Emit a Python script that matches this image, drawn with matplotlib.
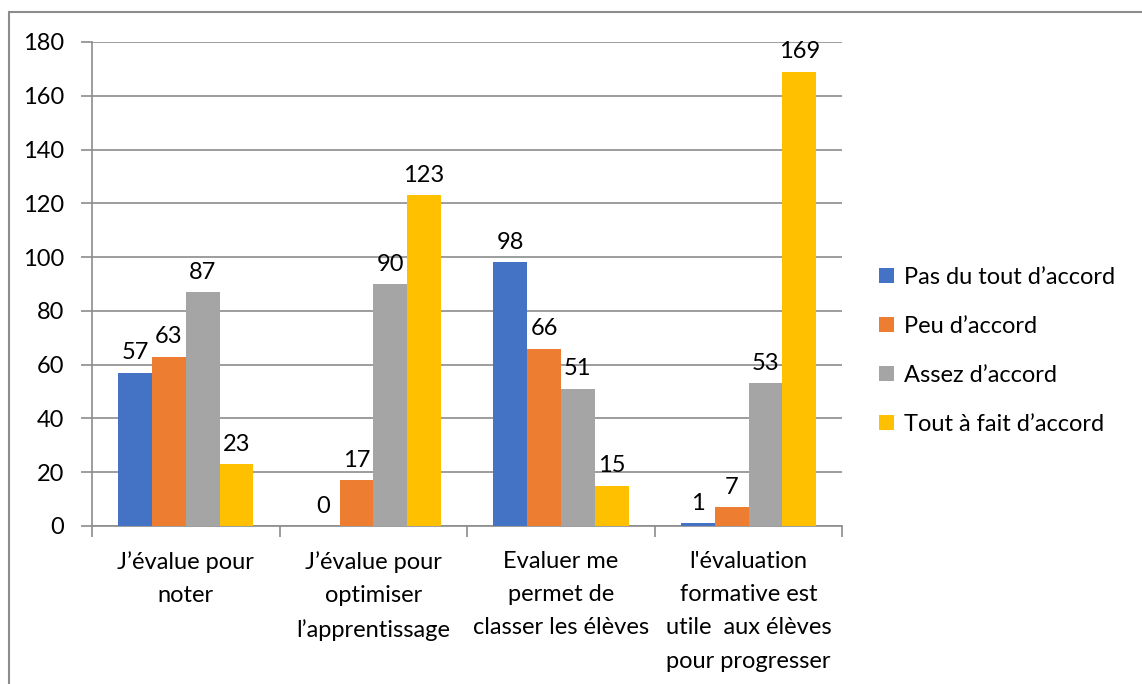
import matplotlib.pyplot as plt
from matplotlib.patches import Rectangle
import numpy as np

plt.rcParams['font.family'] = ['Lato', 'DejaVu Sans']

categories = ["J\u2019évalue pour\nnoter",
              "J\u2019évalue pour\noptimiser\nl\u2019apprentissage",
              "Evaluer me\npermet de\nclasser les élèves",
              "l'évaluation\nformative est\nutile  aux élèves\npour progresser"]
series = ["Pas du tout d\u2019accord", "Peu d\u2019accord",
          "Assez d\u2019accord", "Tout à fait d\u2019accord"]
pas_du_tout = [57, 0, 98, 1]
peu = [63, 17, 66, 7]
assez = [87, 90, 51, 53]
tout_a_fait = [23, 123, 15, 169]
colors = ['#4472C4', '#ED7D31', '#A5A5A5', '#FFC000']

values = [pas_du_tout, peu, assez, tout_a_fait]
fs = 17

fig = plt.figure(figsize=(11.42, 6.84), dpi=100)
ax = fig.add_axes([0.0806, 0.231, 0.657, 0.7076])

# outer chart border (cut off at right and bottom like the reference)
fig.patches.append(Rectangle((9 / 1142, -0.05), 1.1, 1 - 12 / 684 + 0.05,
                             transform=fig.transFigure, fill=False,
                             edgecolor='#8c8c8c', linewidth=1.5))

x = np.arange(len(categories))
w = 0.18
for i, (name, vals) in enumerate(zip(series, values)):
    pos = x + (i - 1.5) * w
    ax.bar(pos, vals, width=w, color=colors[i], label=name, zorder=3)
    for p, v in zip(pos, vals):
        ax.text(p, v + 3.5, str(v), ha='center', va='bottom', fontsize=fs)

ax.set_xlim(-0.5, 3.5)
ax.set_ylim(0, 180)
ax.set_yticks(range(0, 181, 20))
ax.yaxis.grid(True, color='#8c8c8c', linewidth=1.2, zorder=0)
ax.set_axisbelow(True)

ax.set_xticks(x)
ax.set_xticklabels(categories, fontsize=fs, linespacing=1.72)
ax.tick_params(axis='x', length=0, pad=18)
ax.set_xticks(np.arange(-0.5, 4, 1), minor=True)
ax.tick_params(axis='x', which='minor', length=8, color='#8c8c8c', width=1.2)
ax.tick_params(axis='y', labelsize=fs, length=8, color='#8c8c8c', width=1.2, pad=12)

for s in ['top', 'right']:
    ax.spines[s].set_visible(False)
ax.spines['left'].set_color('#8c8c8c')
ax.spines['bottom'].set_color('#8c8c8c')
ax.spines['left'].set_linewidth(1.2)
ax.spines['bottom'].set_linewidth(1.2)

ax.legend(loc='center left', bbox_to_anchor=(870 / 1142, 1 - 351 / 684),
          bbox_transform=fig.transFigure, frameon=False,
          fontsize=fs, handlelength=0.6, handleheight=0.6,
          labelspacing=1.18, handletextpad=0.45, borderaxespad=0.0)

fig.savefig('out.png', dpi=100)
